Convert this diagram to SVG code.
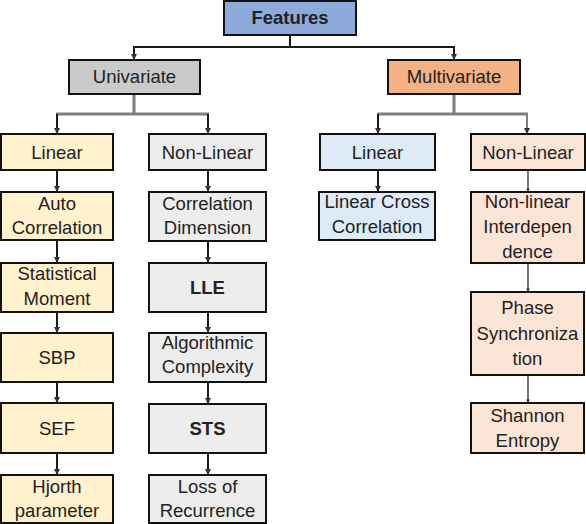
<svg xmlns="http://www.w3.org/2000/svg" width="586" height="524" viewBox="0 0 586 524">
<defs>
<marker id="ah" viewBox="0 0 6 6" refX="6" refY="3" markerWidth="3" markerHeight="3" orient="auto" markerUnits="strokeWidth">
<path d="M0 0 L6 3 L0 6 Z" fill="#333"/>
</marker>
<style>
.box{stroke:#111;stroke-width:2}
.t{font-family:"Liberation Sans",Arial,sans-serif;font-size:18.5px;fill:#222;text-anchor:middle}
.b{font-weight:bold}
.c{fill:none;stroke:#1a1a1a;stroke-width:2}
.g{fill:none;stroke:#7f7f7f;stroke-width:3}
.g2{fill:none;stroke:#7f7f7f;stroke-width:2}
.thin{fill:none;stroke:#1a1a1a;stroke-width:1.2}
</style>
</defs>
<rect width="586" height="524" fill="#fff"/>
<g id="connectors">
<path class="c" d="M290 35 V47 H134 V60" marker-end="url(#ah)"/>
<path class="c" d="M290 47 H454 V60" marker-end="url(#ah)"/>
<path class="g" d="M134 94 V114"/>
<path class="g" d="M56 114 H209"/>
<path class="c" d="M57 114 V134" marker-end="url(#ah)"/>
<path class="c" d="M208 114 V134" marker-end="url(#ah)"/>
<path class="g" d="M454 94 V114"/>
<path class="g" d="M377 114 H528"/>
<path class="c" d="M378 114 V134" marker-end="url(#ah)"/>
<path class="g2" d="M527 114 V134" marker-end="url(#ah)"/>
<path class="c" d="M57 170 V192" marker-end="url(#ah)"/>
<path class="c" d="M57 240 V263" marker-end="url(#ah)"/>
<path class="c" d="M57 312 V333" marker-end="url(#ah)"/>
<path class="c" d="M57 382 V403" marker-end="url(#ah)"/>
<path class="c" d="M57 453 V475" marker-end="url(#ah)"/>
<path class="c" d="M208 170 V192" marker-end="url(#ah)"/>
<path class="c" d="M208 241 V263" marker-end="url(#ah)"/>
<path class="c" d="M208 312 V333" marker-end="url(#ah)"/>
<path class="c" d="M208 382 V404" marker-end="url(#ah)"/>
<path class="c" d="M208 453 V475" marker-end="url(#ah)"/>
<path class="c" d="M378 170 V192" marker-end="url(#ah)"/>
<path class="thin" d="M528 170 V192" marker-end="url(#ah)"/>
<path class="thin" d="M528 263 V292" marker-end="url(#ah)"/>
<path class="thin" d="M528 375 V403" marker-end="url(#ah)"/>
</g>
<g id="features"><rect class="box" x="224" y="1" width="132" height="34" fill="#8eaadb"/><text class="t b" x="290" y="24">Features</text></g>
<g id="univariate"><rect class="box" x="69" y="60" width="131" height="34" fill="#c9cac9"/><text class="t" x="134.5" y="83">Univariate</text></g>
<g id="multivariate"><rect class="box" x="388" y="60" width="132" height="34" fill="#f4b183"/><text class="t" x="454" y="83">Multivariate</text></g>
<g id="uni-linear"><rect class="box" x="1" y="134" width="112" height="36" fill="#fff2cc"/><text class="t" x="57" y="159">Linear</text></g>
<g id="uni-nonlinear"><rect class="box" x="149" y="134" width="117" height="36" fill="#ededed"/><text class="t" x="207.5" y="159">Non-Linear</text></g>
<g id="multi-linear"><rect class="box" x="320" y="134" width="115" height="36" fill="#deebf7"/><text class="t" x="377.5" y="159">Linear</text></g>
<g id="multi-nonlinear"><rect class="box" x="471" y="134" width="114" height="36" fill="#fbe5d6"/><text class="t" x="528" y="159">Non-Linear</text></g>
<g id="auto-correlation"><rect class="box" x="1" y="192" width="112" height="48" fill="#fff2cc"/><text class="t" x="57" y="210">Auto</text><text class="t" x="57" y="234">Correlation</text></g>
<g id="statistical-moment"><rect class="box" x="1" y="263" width="112" height="49" fill="#fff2cc"/><text class="t" x="57" y="280">Statistical</text><text class="t" x="57" y="305">Moment</text></g>
<g id="sbp"><rect class="box" x="1" y="333" width="112" height="49" fill="#fff2cc"/><text class="t" x="57" y="364">SBP</text></g>
<g id="sef"><rect class="box" x="1" y="403" width="112" height="50" fill="#fff2cc"/><text class="t" x="57" y="435">SEF</text></g>
<g id="hjorth"><rect class="box" x="1" y="475" width="112" height="48" fill="#fff2cc"/><text class="t" x="57" y="493">Hjorth</text><text class="t" x="57" y="517">parameter</text></g>
<g id="correlation-dimension"><rect class="box" x="149" y="192" width="117" height="49" fill="#ededed"/><text class="t" x="207.5" y="210">Correlation</text><text class="t" x="207.5" y="234">Dimension</text></g>
<g id="lle"><rect class="box" x="149" y="263" width="117" height="49" fill="#ededed"/><text class="t b" x="207.5" y="294">LLE</text></g>
<g id="algorithmic-complexity"><rect class="box" x="149" y="333" width="117" height="49" fill="#ededed"/><text class="t" x="207.5" y="349">Algorithmic</text><text class="t" x="207.5" y="373">Complexity</text></g>
<g id="sts"><rect class="box" x="149" y="404" width="117" height="49" fill="#ededed"/><text class="t b" x="207.5" y="435">STS</text></g>
<g id="loss-of-recurrence"><rect class="box" x="149" y="475" width="117" height="48" fill="#ededed"/><text class="t" x="207.5" y="493">Loss of</text><text class="t" x="207.5" y="517">Recurrence</text></g>
<g id="linear-cross-correlation"><rect class="box" x="319" y="192" width="116" height="48" fill="#deebf7"/><text class="t" x="377" y="208">Linear Cross</text><text class="t" x="377" y="233">Correlation</text></g>
<g id="nonlinear-interdependence"><rect class="box" x="471" y="192" width="113" height="71" fill="#fbe5d6"/><text class="t" x="527.5" y="208">Non-linear</text><text class="t" x="527.5" y="233">Interdepen</text><text class="t" x="527.5" y="258">dence</text></g>
<g id="phase-synchronization"><rect class="box" x="471" y="292" width="113" height="83" fill="#fbe5d6"/><text class="t" x="527.5" y="314">Phase</text><text class="t" x="527.5" y="340">Synchroniza</text><text class="t" x="527.5" y="365">tion</text></g>
<g id="shannon-entropy"><rect class="box" x="471" y="403" width="113" height="50" fill="#fbe5d6"/><text class="t" x="527.5" y="422">Shannon</text><text class="t" x="527.5" y="447">Entropy</text></g>
</svg>
